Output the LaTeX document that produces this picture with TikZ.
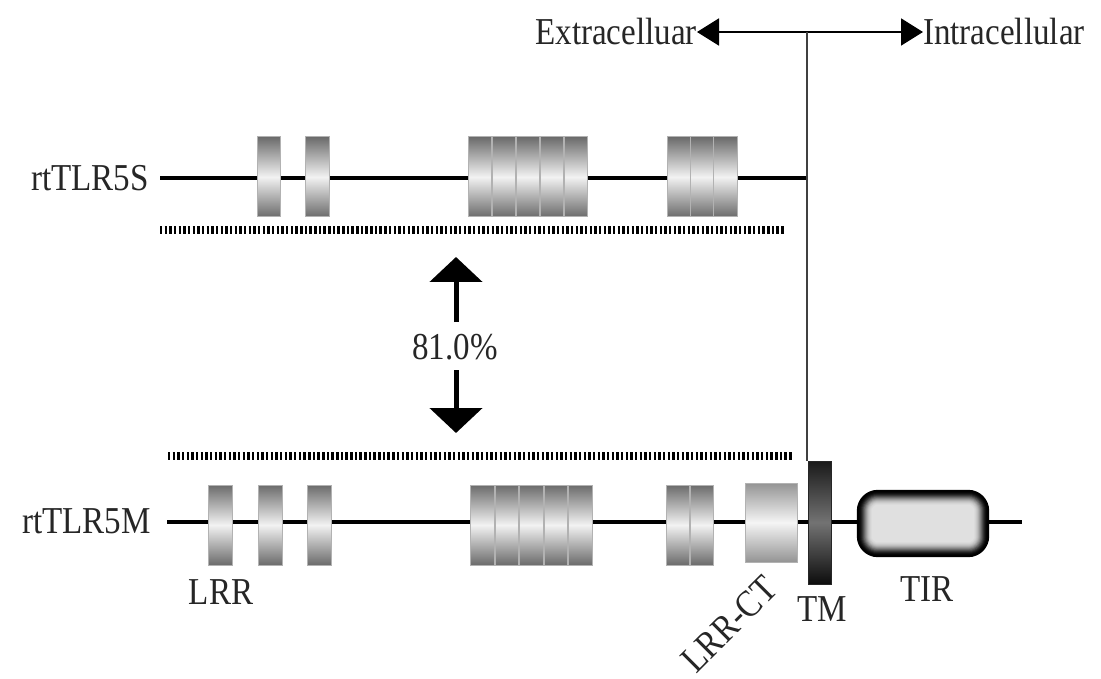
\documentclass[tikz,border=0pt]{standalone}
\usepackage{fontspec}
\setmainfont{Liberation Serif}[FakeStretch=0.87]
\usetikzlibrary{arrows.meta}
\begin{document}
\begin{tikzpicture}[x=1pt,y=-1pt,
  lbl/.style={font=\fontsize{38}{42}\selectfont, text=black!85, inner sep=0pt},
  backbone/.style={line width=4.5pt, black},
  lrr/.style={draw=black!30, line width=1pt, minimum width=23.5pt, minimum height=80pt, inner sep=0pt,
              top color=black!58, bottom color=black!58, middle color=black!5},
  ctbox/.style={lrr, minimum width=52pt, minimum height=79pt, top color=black!42, bottom color=black!42, middle color=black!4},
  tmbox/.style={draw=black!85, line width=1pt, minimum width=23pt, minimum height=123pt, inner sep=0pt,
              top color=black!90, bottom color=black!95, middle color=black!55},
  ident/.style={line width=8pt, dash pattern=on 2.4pt off 2.27pt, black},
  bigarrow/.style={line width=5pt, -{Triangle[width=52pt,length=25pt]}},
  sidearrow/.style={line width=2pt, {Triangle[width=27pt,length=22pt]}-{Triangle[width=27pt,length=22pt]}},
  membrane/.style={line width=1.3pt, black!75}]
\useasboundingbox (0,0) rectangle (1101,679);
\fill[white] (0,0) rectangle (1101,679);

% ---- side labels ----
\node[lbl, anchor=east] (nameS) at (149,178) {rtTLR5S};
\node[lbl, anchor=east] (nameM) at (151,521) {rtTLR5M};

% ---- backbones ----
\coordinate (sL) at (160,178);
\coordinate (sR) at (806,178);
\coordinate (mL) at (167,522);
\coordinate (mR) at (1022,522);
\draw[backbone] (sL) -- (sR);
\draw[backbone] (mL) -- (mR);

% ---- compartment arrow and membrane ----
\node[lbl, anchor=east] (ext) at (697,32) {Extracelluar};
\node[lbl, anchor=west] (int) at (923,32) {Intracellular};
\coordinate (mem) at (807,32);
\draw[sidearrow] (ext.east) -- (int.west);

% ---- rtTLR5S domains ----
\foreach \n/\x in {s1/269, s2/317.5, s3/480, s4/504, s5/528, s6/552, s7/576, s8/679.5, s9/702.5, s10/725.5}
  \node[lrr] (\n) at (\x,177) {};

% ---- rtTLR5M domains ----
\foreach \n/\x in {m1/220.5, m2/270.5, m3/319.5, m4/482.3, m5/506.9, m6/531.5, m7/556.1, m8/580.7, m9/678, m10/702}
  \node[lrr] (\n) at (\x,525) {};
\node[ctbox] (ct) at (771,522.5) {};
\node[tmbox] (tm) at (819.5,522.5) {};
\draw[membrane] (mem) -- (mem |- tm.north);

% TIR domain: soft-edged rounded box
\node[minimum width=132pt, minimum height=67pt, inner sep=0pt] (tir) at (923,523.5) {};
\foreach \i/\c in {0/100,1/100,2/98,3/94,4/88,5/80,6/70,7/60,8/50,9/41,10/33,11/26,12/21,13/17,14/14,15/12}
  \fill[black!\c!white, rounded corners=\fpeval{max(21-\i,3)}pt]
    ([shift={(\i,\i)}]tir.north west) rectangle ([shift={(-\i,-\i)}]tir.south east);

% ---- identity bars ----
\coordinate (dSL) at (160,230);
\coordinate (dSR) at (785,230);
\coordinate (dML) at (168,456);
\coordinate (dMR) at (793,456);
\draw[ident] (dSL) -- (dSR);
\draw[ident] (dML) -- (dMR);

% ---- identity value ----
\node[lbl] (pct) at (455,347) {81.0\%};
\coordinate (upTip) at (456,257);
\coordinate (dnTip) at (456,433);
\draw[bigarrow] (456,322) -- (upTip);
\draw[bigarrow] (456,370) -- (dnTip);

% ---- domain labels ----
\node[lbl] (lrrLbl) at (221,592) {LRR};
\node[lbl, rotate=45] (ctLbl) at (729,624) {LRR-CT};
\node[lbl] (tmLbl) at (822,609) {TM};
\node[lbl] (tirLbl) at (927,589) {TIR};
\end{tikzpicture}
\end{document}
